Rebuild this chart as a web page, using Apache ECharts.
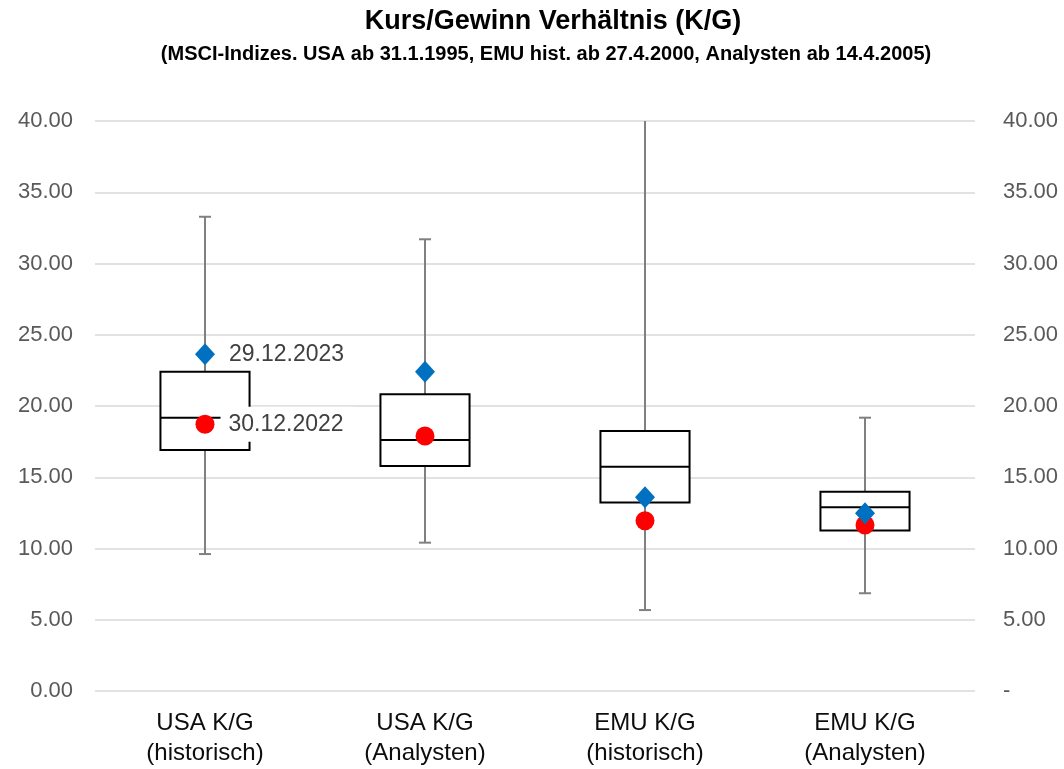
<!DOCTYPE html>
<html>
<head>
<meta charset="utf-8">
<script src="https://cdn.jsdelivr.net/npm/echarts@6/dist/echarts.min.js"></script>
<style>html,body{margin:0;padding:0;background:#fff;}#c{width:1064px;height:769px;}</style>
</head>
<body>
<div id="c"></div>
<script>
var categories = ['USA K/G\n(historisch)', 'USA K/G\n(Analysten)', 'EMU K/G\n(historisch)', 'EMU K/G\n(Analysten)'];
var whiskerLow  = [9.61, 10.41, 5.68, 6.86];
var quartile1   = [16.91, 15.79, 13.22, 11.27];
var medianVals  = [19.18, 17.61, 15.74, 12.89];
var quartile3   = [22.41, 20.82, 18.25, 13.99];
var whiskerHigh = [33.28, 31.70, 40.00, 19.18];
var values2023  = [23.63, 22.41, 13.59, 12.47];
var values2022  = [18.72, 17.89, 11.95, 11.65];
var labelTexts  = ['29.12.2023', '30.12.2022'];
var yMin = 0, yMax = 40, yStep = 5;

var FONT = "'Liberation Sans', Arial, sans-serif";

var boxData = categories.map(function (c, i) {
  return [i, whiskerLow[i], quartile1[i], medianVals[i], quartile3[i], whiskerHigh[i]];
});

function renderBox(params, api) {
  var idx = api.value(0);
  var pLow = api.coord([idx, api.value(1)]);
  var pQ1 = api.coord([idx, api.value(2)]);
  var pMed = api.coord([idx, api.value(3)]);
  var pQ3 = api.coord([idx, api.value(4)]);
  var pHigh = api.coord([idx, api.value(5)]);
  var bw = api.size([1, 0])[0] * 0.405;
  var cap = 12;
  var x = pLow[0];
  var whiskStyle = {stroke: '#808080', lineWidth: 2};
  var children = [
    {type: 'line', shape: {x1: x, y1: pQ3[1], x2: x, y2: pHigh[1]}, style: whiskStyle},
    {type: 'line', shape: {x1: x, y1: pQ1[1], x2: x, y2: pLow[1]}, style: whiskStyle},
    {type: 'line', shape: {x1: x - cap / 2, y1: pLow[1], x2: x + cap / 2, y2: pLow[1]}, style: whiskStyle}
  ];
  if (api.value(5) < yMax) {
    children.push({type: 'line', shape: {x1: x - cap / 2, y1: pHigh[1], x2: x + cap / 2, y2: pHigh[1]}, style: whiskStyle});
  }
  children.push({type: 'rect', shape: {x: x - bw / 2, y: pQ3[1], width: bw, height: pQ1[1] - pQ3[1]},
    style: {fill: '#ffffff', stroke: '#000000', lineWidth: 2}});
  children.push({type: 'line', shape: {x1: x - bw / 2, y1: pMed[1], x2: x + bw / 2, y2: pMed[1]},
    style: {stroke: '#000000', lineWidth: 2}});
  return {type: 'group', children: children};
}

function pointData(values, labelText, labelOpts) {
  return values.map(function (v, i) {
    var item = {value: [i, v]};
    if (i === 0) {
      item.label = Object.assign({show: true, formatter: labelText}, labelOpts);
    }
    return item;
  });
}

var chart = echarts.init(document.getElementById('c'), null, {renderer: 'canvas'});
chart.setOption({
  animation: false,
  backgroundColor: '#ffffff',
  title: [
    {text: 'Kurs/Gewinn Verhältnis (K/G)', left: 548, top: 3, textAlign: 'center',
     textStyle: {fontFamily: FONT, fontSize: 27, fontWeight: 'bold', color: '#000'}},
    {text: '(MSCI-Indizes. USA ab 31.1.1995, EMU hist. ab 27.4.2000, Analysten ab 14.4.2005)', left: 541, top: 39, textAlign: 'center',
     textStyle: {fontFamily: FONT, fontSize: 20, fontWeight: 'bold', color: '#000'}}
  ],
  grid: {left: 95, right: 89, top: 121, bottom: 78, containLabel: false},
  xAxis: {
    type: 'category', data: categories, boundaryGap: true,
    axisLine: {show: false}, axisTick: {show: false},
    axisLabel: {fontFamily: FONT, fontSize: 24, color: '#0d0d0d', margin: 17, lineHeight: 30, interval: 0}
  },
  yAxis: [
    {type: 'value', min: yMin, max: yMax, interval: yStep, position: 'left',
     axisLine: {show: false}, axisTick: {show: false},
     splitLine: {show: true, lineStyle: {color: '#d9d9d9', width: 1.5}},
     axisLabel: {fontFamily: FONT, fontSize: 22, color: '#595959', margin: 22,
       formatter: function (v) { return v.toFixed(2); }}},
    {type: 'value', min: yMin, max: yMax, interval: yStep, position: 'right',
     axisLine: {show: false}, axisTick: {show: false}, splitLine: {show: false},
     axisLabel: {fontFamily: FONT, fontSize: 22, color: '#595959', margin: 28,
       formatter: function (v) { return v === 0 ? '-' : v.toFixed(2); }}}
  ],
  series: [
    {type: 'custom', name: 'box', renderItem: renderBox, data: boxData, z: 2,
     encode: {x: 0, y: [1, 2, 3, 4, 5]}},
    {type: 'scatter', name: labelTexts[1],
     data: pointData(values2022, labelTexts[1], {position: 'right', distance: 6,
       fontFamily: FONT, fontSize: 23, color: '#404040', backgroundColor: '#ffffff', padding: [6, 10, 6, 8]}),
     symbol: 'circle', symbolSize: 19, itemStyle: {color: '#ff0000', opacity: 1}, z: 4,
     label: {show: false}},
    {type: 'scatter', name: labelTexts[0],
     data: pointData(values2023, labelTexts[0], {position: 'right', distance: 14,
       fontFamily: FONT, fontSize: 23, color: '#404040'}),
     symbol: 'diamond', symbolSize: [20, 22], itemStyle: {color: '#0070c0', opacity: 1}, z: 5,
     label: {show: false}}
  ]
});
</script>
</body>
</html>
